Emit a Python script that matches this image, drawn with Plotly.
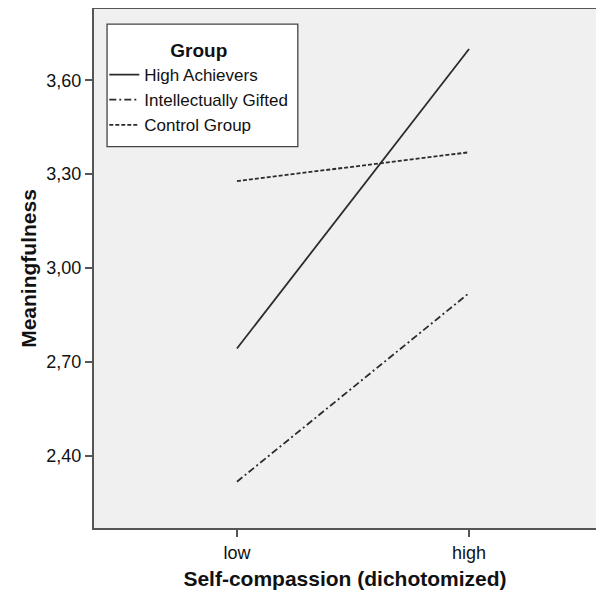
import plotly.graph_objects as go

categories = ["low", "high"]
groups = ["High Achievers", "Intellectually Gifted", "Control Group"]
high_achievers = [2.743, 3.70]
intellectually_gifted = [2.317, 2.92]
control_group = [3.278, 3.37]
y_ticks = [2.40, 2.70, 3.00, 3.30, 3.60]

series = [high_achievers, intellectually_gifted, control_group]
dashes = ["solid", "7px,3px,2px,3px", "4px,2px"]

FONT = "Liberation Sans, Arial, sans-serif"
fig = go.Figure()
for name, vals, dash in zip(groups, series, dashes):
    fig.add_trace(go.Scatter(
        x=categories, y=vals, mode="lines", name=name,
        line=dict(color="#2b2b2b", width=1.8, dash=dash),
    ))

fig.add_shape(type="rect", xref="paper", yref="paper",
              x0=0.026, x1=0.406, y0=0.735, y1=0.971,
              line=dict(color="#444444", width=1.3), fillcolor="white", layer="above")

fig.update_layout(
    width=588, height=582,
    margin=dict(l=86, r=0, t=1, b=62),
    paper_bgcolor="white", plot_bgcolor="#f0f0f0",
    separators=",.",
    font=dict(family=FONT, color="#111111", size=18),
    showlegend=True,
    legend=dict(
        x=0.0205, y=0.955, xanchor="left", yanchor="top",
        bgcolor="rgba(0,0,0,0)", borderwidth=0,
        title=dict(text="<b>Group</b>", side="top center", font=dict(size=19)),
        font=dict(size=17), tracegroupgap=0, itemwidth=30,
    ),
    xaxis=dict(
        type="category", range=[-0.616, 1.547], automargin=False,
        showline=True, linecolor="#555555", linewidth=2, mirror=True,
        ticks="outside", ticklen=7, tickcolor="#555555", tickwidth=1.5,
        showgrid=False, zeroline=False,
        title=dict(text="<b>Self-compassion (dichotomized)</b>", font=dict(size=21), standoff=10),
    ),
    yaxis=dict(
        range=[2.169, 3.828], automargin=False,
        tickvals=y_ticks, tickformat=".2f",
        showline=True, linecolor="#555555", linewidth=2, mirror=False,
        ticks="outside", ticklen=7, tickcolor="#555555", tickwidth=1.5,
        showgrid=False, zeroline=False,
        title=dict(text="<b>Meaningfulness</b>", font=dict(size=21), standoff=4),
    ),
)

fig.write_html("out.html")
